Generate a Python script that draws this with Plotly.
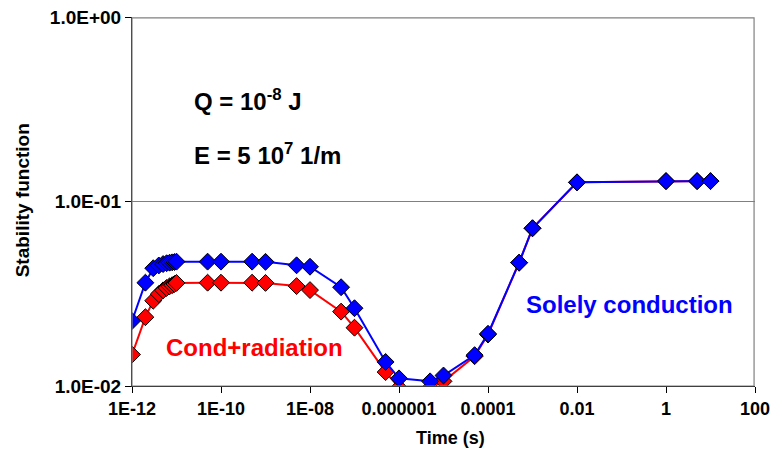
import plotly.graph_objects as go

time_s = [1e-12, 2e-12, 3e-12, 4e-12, 5e-12, 6e-12, 7e-12, 8e-12, 9e-12, 1e-11,
          5e-11, 1e-10, 5e-10, 1e-9, 5e-9, 1e-8, 5e-8, 1e-7, 5e-7, 1e-6, 5e-6, 1e-5,
          5e-5, 1e-4, 5e-4, 1e-3, 1e-2, 1, 5, 10]

cond_radiation = [0.0148, 0.0236, 0.0290, 0.0315, 0.0330, 0.0340, 0.0347, 0.0352, 0.0357, 0.0362,
                  0.0363, 0.0363, 0.0363, 0.0362, 0.0348, 0.0331, 0.0253, 0.0207, 0.0119, 0.0098,
                  0.0098, 0.0106, 0.0145, 0.0190, 0.0466, 0.0716, 0.127, 0.129, 0.129, 0.129]

solely_conduction = [0.0225, 0.0363, 0.0435, 0.0450, 0.0458, 0.0463, 0.0466, 0.0468, 0.0470, 0.0472,
                     0.0472, 0.0472, 0.0472, 0.0471, 0.0451, 0.0443, 0.0343, 0.0264, 0.0135, 0.0110,
                     0.0106, 0.0114, 0.0147, 0.0192, 0.0466, 0.0716, 0.127, 0.129, 0.129, 0.129]

x_tickvals = [1e-12, 1e-10, 1e-8, 1e-6, 1e-4, 1e-2, 1, 100]
x_ticktext = ["1E-12", "1E-10", "1E-08", "0.000001", "0.0001", "0.01", "1", "100"]
y_tickvals = [0.01, 0.1, 1]
y_ticktext = ["1.0E-02", "1.0E-01", "1.0E+00"]

FONT = "Liberation Sans, Arial, sans-serif"

fig = go.Figure()
fig.add_trace(go.Scatter(
    x=time_s, y=cond_radiation, mode="lines+markers", name="Cond+radiation",
    line=dict(color="#ff0000", width=2),
    marker=dict(symbol="diamond", size=13, color="#ff0000", line=dict(color="black", width=1)),
))
fig.add_trace(go.Scatter(
    x=time_s, y=solely_conduction, mode="lines+markers", name="Solely conduction",
    line=dict(color="#0000ff", width=2),
    marker=dict(symbol="diamond", size=13, color="#0000ff", line=dict(color="black", width=1)),
))

fig.update_layout(
    width=774, height=446,
    margin=dict(l=124, r=27, t=9, b=68, autoexpand=False),
    paper_bgcolor="white", plot_bgcolor="white",
    showlegend=False,
    font=dict(family=FONT, size=14, color="black"),
    xaxis=dict(
        type="log", range=[-12, 2],
        tickvals=x_tickvals, ticktext=["<b>%s</b>" % t for t in x_ticktext],
        ticks="outside", ticklen=6, tickcolor="black", tickwidth=1,
        showline=True, linecolor="black", linewidth=1,
        showgrid=False, zeroline=False, automargin=False,
        ticklabeloverflow="allow",
        tickfont=dict(family=FONT, size=18, color="black"),
    ),
    yaxis=dict(
        type="log", range=[-2, 0],
        tickvals=y_tickvals, ticktext=["<b>%s</b>" % t for t in y_ticktext],
        ticks="outside", ticklen=6, tickcolor="black", tickwidth=1,
        showline=True, linecolor="black", linewidth=1,
        showgrid=True, gridcolor="#808080", gridwidth=1,
        zeroline=False, automargin=False,
        ticklabeloverflow="allow",
        tickfont=dict(family=FONT, size=19, color="black"),
    ),
    shapes=[
        dict(type="rect", xref="paper", yref="paper", x0=0.0, x1=0.9985, y0=0.0, y1=0.9975,
             line=dict(color="#808080", width=1.2), fillcolor="rgba(0,0,0,0)", layer="above"),
    ],
    annotations=[
        dict(text="<b>Stability function</b>", xref="paper", yref="paper",
             x=(22 - 131.7) / 623, y=(386 - 200) / 369, textangle=-90,
             xanchor="center", yanchor="middle", showarrow=False,
             font=dict(family=FONT, size=19, color="black")),
        dict(text="<b>Time (s)</b>", xref="paper", yref="paper",
             x=(450 - 131.7) / 623, y=(386 - 438) / 369,
             xanchor="center", yanchor="middle", showarrow=False,
             font=dict(family=FONT, size=18, color="black")),
        dict(text="<b>Q = 10<sup>-8</sup> J</b>", xref="paper", yref="paper",
             x=0.096, y=0.775, xanchor="left", yanchor="middle", showarrow=False,
             font=dict(family=FONT, size=24, color="black")),
        dict(text="<b>E = 5 10<sup>7</sup> 1/m</b>", xref="paper", yref="paper",
             x=0.096, y=0.629, xanchor="left", yanchor="middle", showarrow=False,
             font=dict(family=FONT, size=24, color="black")),
        dict(text="<b>Cond+radiation</b>", xref="paper", yref="paper",
             x=(254.5 - 131.7) / 623, y=(386 - 347) / 369, xanchor="center", yanchor="middle",
             showarrow=False, font=dict(family=FONT, size=24, color="#ff0000")),
        dict(text="<b>Solely conduction</b>", xref="paper", yref="paper",
             x=(629.5 - 131.7) / 623, y=(386 - 304) / 369, xanchor="center", yanchor="middle",
             showarrow=False, font=dict(family=FONT, size=24, color="#0000ff")),
    ],
)

fig.write_html("out.html")
